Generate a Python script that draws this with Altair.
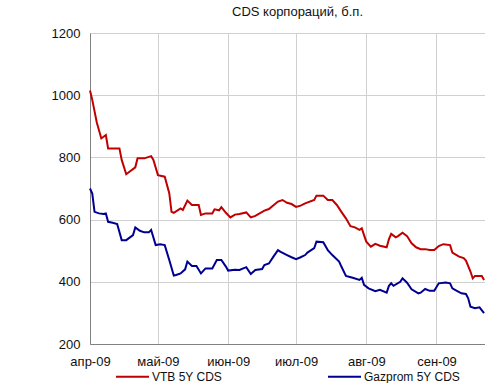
import altair as alt
import pandas as pd

# Day offsets from 2009-04-01 and values (basis points)
vtb_days = [0, 1, 3, 5, 7, 8, 13, 14, 16, 20, 21, 24, 27, 28, 30, 33, 35, 36, 37, 40,
            41, 43, 45, 48, 49, 51, 54, 55, 57, 58, 60, 62, 64, 66, 69, 71, 73, 77, 79, 83,
            85, 87, 89, 91, 93, 95, 99, 100, 103, 105, 107, 109, 111, 113, 115, 117, 119, 120,
            121, 122, 124, 126, 128, 131, 132, 133, 135, 136, 138, 140, 142, 144, 146, 148, 150,
            152, 154, 156, 159, 160, 163, 165, 166, 168, 169, 170, 173, 174]
vtb_vals = [1015, 985, 912, 861, 872, 829, 829, 792, 746, 768, 797, 797, 804, 792, 743, 738, 685, 625, 622, 636,
            631, 661, 647, 647, 615, 620, 620, 633, 630, 640, 622, 607, 616, 618, 623, 607, 612, 629, 634, 658,
            663, 654, 650, 641, 645, 652, 663, 677, 677, 663, 663, 647, 625, 604, 579, 575, 567, 572,
            550, 529, 513, 522, 516, 511, 537, 554, 543, 547, 558, 547, 524, 511, 505, 505, 502,
            502, 515, 521, 518, 494, 481, 476, 468, 433, 411, 419, 419, 406]

gaz_days = [0, 1, 2, 4, 6, 7, 8, 10, 12, 14, 16, 19, 20, 22, 24, 26, 27, 29, 31, 33,
            35, 37, 38, 40, 42, 43, 45, 47, 49, 51, 54, 56, 58, 60, 61, 64, 66, 69, 71, 73,
            76, 77, 79, 81, 83, 84, 87, 89, 91, 93, 95, 96, 99, 100, 103, 105, 107, 110, 111,
            113, 116, 119, 120, 121, 123, 126, 128, 131, 132, 133, 134, 137, 138, 140, 142, 145,
            146, 148, 150, 152, 154, 157, 159, 160, 162, 164, 166, 167, 168, 170, 172, 174]
gaz_vals = [700, 684, 625, 620, 618, 620, 593, 590, 586, 534, 534, 550, 575, 564, 559, 559, 567, 518, 521, 518,
            470, 420, 422, 427, 440, 465, 451, 451, 427, 443, 443, 470, 470, 449, 436, 439, 438, 447, 425, 438,
            441, 454, 459, 481, 502, 497, 486, 479, 473, 479, 486, 494, 508, 529, 527, 502, 486, 465, 449,
            419, 413, 406, 413, 390, 379, 370, 374, 365, 387, 395, 387, 400, 411, 397, 376, 363,
            365, 377, 371, 371, 395, 398, 395, 379, 371, 363, 361, 347, 320, 315, 318, 299]

series_names = ["VTB 5Y CDS", "Gazprom 5Y CDS"]
series_colors = ["#C00000", "#000090"]
y_ticks = [200, 400, 600, 800, 1000, 1200]
month_labels = ["янв", "фев", "мар", "апр", "май", "июн", "июл", "авг", "сен", "окт", "ноя", "дек"]

start = pd.Timestamp("2009-04-01")
rows = []
for name, days, vals in [(series_names[0], vtb_days, vtb_vals), (series_names[1], gaz_days, gaz_vals)]:
    for d, v in zip(days, vals):
        rows.append({"date": (start + pd.Timedelta(days=d)).strftime("%Y-%m-%dT%H:%M:%S"),
                     "value": v, "series": name})
df = pd.DataFrame(rows)

month_ticks = [alt.DateTime(year=2009, month=m, date=1) for m in range(4, 10)]
label_expr = ("[" + ",".join("'%s'" % m for m in month_labels) + "][month(datum.value)] + '-' + timeFormat(datum.value, '%y')")

FONT = "Liberation Sans"

chart = alt.Chart(df).mark_line(strokeWidth=2, interpolate="linear").encode(
    x=alt.X("date:T",
            scale=alt.Scale(domain=[alt.DateTime(year=2009, month=4, date=1),
                                    alt.DateTime(year=2009, month=9, date=22, hours=10)]),
            axis=alt.Axis(values=month_ticks, labelExpr=label_expr, title=None,
                          ticks=False, labelPadding=11, grid=True, gridColor="#D0D0D0",
                          domainColor="#808080", labelColor="#111", labelFontSize=13,
                          labelFont=FONT, labelAngle=0, labelFlush=False)),
    y=alt.Y("value:Q",
            scale=alt.Scale(domain=[200, 1200], nice=False),
            axis=alt.Axis(values=y_ticks, format="d", title=None, ticks=False, labelPadding=10,
                          grid=True, gridColor="#D0D0D0", domainColor="#808080",
                          labelColor="#111", labelFontSize=13, labelFont=FONT)),
    color=alt.Color("series:N",
                    scale=alt.Scale(domain=series_names, range=series_colors),
                    sort=series_names,
                    legend=alt.Legend(title=None, orient="none", direction="horizontal",
                                      legendX=25, legendY=326, symbolType="stroke",
                                      symbolSize=1089, symbolStrokeWidth=2,
                                      labelFont=FONT, labelFontSize=12, labelColor="#111",
                                      labelOffset=2, columnPadding=75, gridAlign="all")),
).properties(
    width=395, height=311,
    title=alt.TitleParams("CDS корпораций, б.п.", font=FONT, fontSize=13,
                          fontWeight="normal", color="#111", anchor="middle",
                          dx=10, offset=8),
    autosize=alt.AutoSizeParams(type="none"),
    padding={"left": 90, "top": 33, "right": 0, "bottom": 39},
).configure_view(stroke=None).configure(background="white")

chart.save("out.html", embed_options={"renderer": "svg", "actions": False})
